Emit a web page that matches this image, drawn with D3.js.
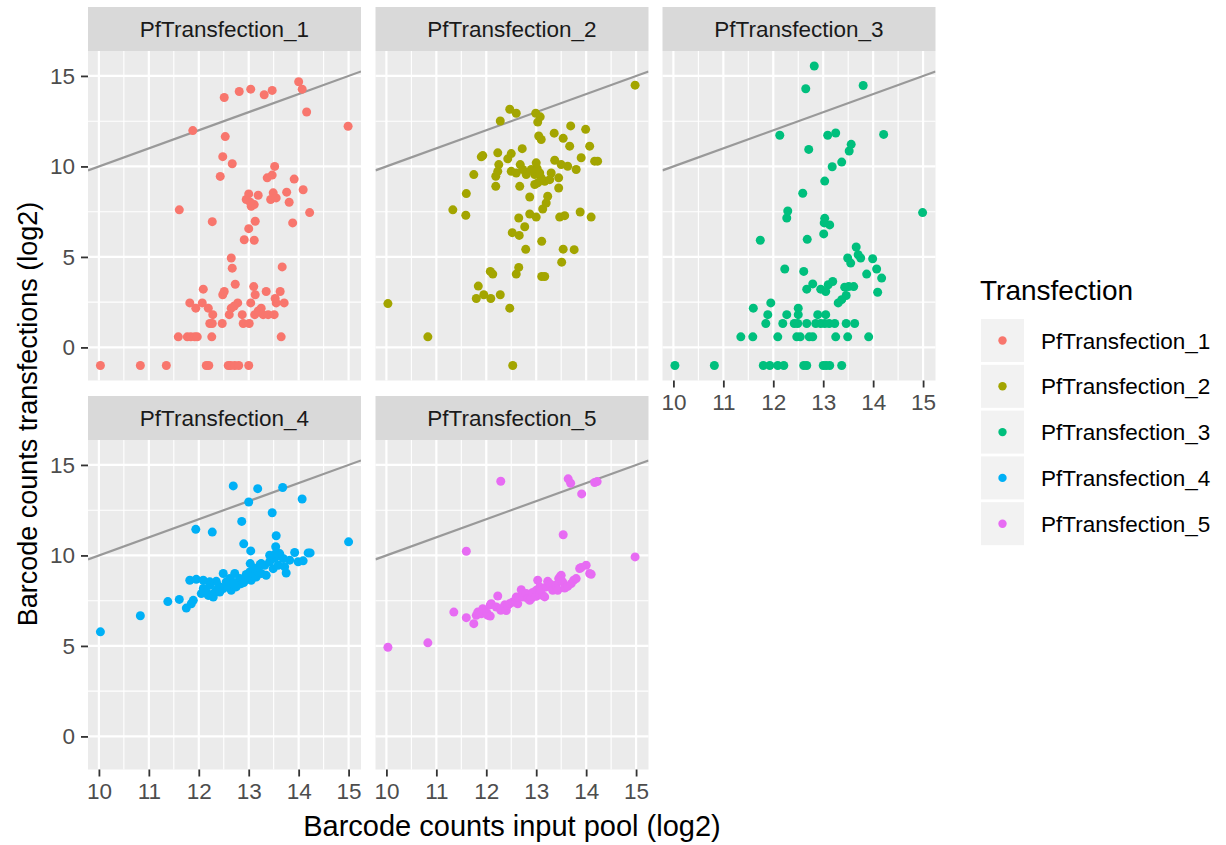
<!DOCTYPE html>
<html>
<head>
<meta charset="utf-8">
<script src="https://cdn.jsdelivr.net/npm/d3@7"></script>
<style>
  html, body { margin: 0; padding: 0; background: #ffffff; }
  svg { display: block; font-family: "Liberation Sans", Arial, Helvetica, sans-serif; }
</style>
</head>
<body>
<svg id="chart" width="1226" height="845"></svg>
<script>
// Facet names and their hue colours
const transfections = ["PfTransfection_1", "PfTransfection_2", "PfTransfection_3", "PfTransfection_4", "PfTransfection_5"];
const colours = ["#F8766D", "#A3A500", "#00BF7D", "#00B0F6", "#E76BF3"];

// Axis ticks
const xTicks = [10, 11, 12, 13, 14, 15];
const yTicks = [0, 5, 10, 15];
const xMinor = [10.5, 11.5, 12.5, 13.5, 14.5];
const yMinor = [2.5, 7.5, 12.5];

// Barcode counts: [input pool (log2), transfection (log2)]
const pf1 = [
  [10.03,-1],[10.83,-1],[11.35,-1],[12.15,-1],[12.2,-1],[12.59,-1],[12.64,-1],[12.72,-1],[12.8,-1],[13.0,-1],
  [11.59,0.585],[11.77,0.585],[11.84,0.585],[11.92,0.585],[11.97,0.585],[12.26,0.585],[13.65,0.585],
  [12.22,1.32],[12.27,1.32],[12.47,1.32],[12.89,1.32],[13.01,1.32],
  [12.28,1.81],[12.61,1.81],[12.87,1.81],[13.12,1.81],[13.29,1.81],[13.39,1.81],[13.51,1.81],
  [11.94,2.17],[12.19,2.17],[12.65,2.17],[13.25,2.17],[13.19,2.01],
  [11.82,2.46],[12.07,2.46],[12.78,2.46],[12.71,2.29],[13.04,2.46],[13.55,2.46],[13.71,2.46],[13.53,2.7],
  [12.48,2.91],[13.13,2.91],[12.51,3.09],[13.35,3.09],[13.63,3.09],[12.09,3.22],[13.1,3.36],[12.73,3.49],
  [12.67,4.38],[13.67,4.45],[12.65,4.94],
  [12.91,5.95],[13.11,5.92],[13.0,6.56],[12.27,6.95],[13.13,6.97],[13.88,6.88],[11.61,7.6],[14.22,7.45],
  [13.05,7.8],[13.11,7.89],[13.03,8.02],[13.81,8.02],[12.95,8.17],[13.44,8.17],[13.55,8.26],[13.19,8.41],
  [13.0,8.48],[13.49,8.54],[13.76,8.58],[14.09,8.71],
  [13.91,9.3],[13.37,9.37],[12.43,9.45],[13.47,9.52],[13.52,10.0],[12.67,10.15],[12.48,10.54],
  [12.53,11.65],[11.88,11.98],[14.99,12.22],[14.16,13.01],
  [12.51,13.81],[13.31,13.96],[12.81,14.14],[13.47,14.2],[13.04,14.27],[14.07,14.27],[14.0,14.68]
];
const pf2 = [
  [10.03,2.42],[10.83,0.585],[12.53,-1],
  [11.8,2.7],[12.09,2.7],[12.28,2.91],[11.95,2.91],[12.47,2.17],[11.84,3.39],
  [13.11,3.92],[13.17,3.92],[12.13,4.05],[12.6,4.05],[12.08,4.2],[12.65,4.42],[13.51,4.71],
  [12.79,5.42],[13.54,5.43],[13.76,5.4],[13.11,5.86],
  [12.66,6.19],[12.52,6.34],[12.77,6.67],
  [12.65,7.15],[12.87,7.37],[13.0,7.2],[13.47,7.2],[13.57,7.28],[13.88,7.48],[14.1,7.2],[11.33,7.6],[11.59,7.3],
  [13.13,7.65],[13.2,7.98],[12.87,8.31],[13.23,8.35],[11.6,8.5],
  [12.19,8.9],[12.67,8.9],[12.97,9.0],[13.03,9.09],[13.45,8.81],[13.17,9.18],[13.27,9.27],[13.1,9.37],[13.45,9.37],
  [12.19,9.46],[11.75,9.55],[12.8,9.55],[12.97,9.55],[12.6,9.64],[13.07,9.64],[13.3,9.64],
  [12.23,9.73],[12.5,9.73],[12.73,9.83],[12.9,9.83],[13.02,9.87],[13.8,9.83],[13.63,10.01],
  [12.25,10.1],[12.68,10.1],[13.5,10.1],[13.0,10.2],[14.17,10.29],[14.23,10.29],[13.37,10.34],
  [12.43,10.42],[13.9,10.48],[11.9,10.53],[11.93,10.6],[12.5,10.71],[12.23,10.75],[12.72,10.98],
  [13.67,11.12],[14.07,11.12],[13.1,11.49],[13.54,11.55],[13.05,11.68],[13.36,11.84],
  [13.99,12.05],[13.69,12.24],[13.03,12.45],[12.28,12.51],[13.08,12.74],[12.6,12.94],[12.99,12.94],[12.47,13.16],
  [14.98,14.49]
];
const pf3 = [
  [10.03,-1],[10.82,-1],[11.8,-1],[11.93,-1],[12.09,-1],[12.21,-1],[12.61,-1],[12.67,-1],[13.0,-1],[13.06,-1],[13.13,-1],[13.37,-1],
  [11.35,0.585],[11.59,0.585],[12.09,0.585],[12.47,0.585],[12.54,0.585],[12.72,0.585],[12.79,0.585],[13.25,0.585],[13.49,0.585],[13.91,0.585],
  [11.85,1.32],[12.19,1.32],[12.42,1.32],[12.49,1.32],[12.67,1.32],[12.85,1.32],[12.95,1.32],[13.03,1.32],[13.12,1.32],[13.23,1.32],[13.46,1.32],[13.63,1.32],
  [11.89,1.81],[12.27,1.81],[12.5,1.81],[12.89,1.81],[13.05,1.81],
  [11.6,2.17],[12.5,2.17],[11.95,2.46],[13.3,2.46],[13.37,2.64],[13.46,2.87],
  [12.67,3.22],[12.95,3.22],[13.05,3.09],[14.09,3.05],[13.43,3.33],[13.51,3.36],[13.61,3.36],[13.1,3.46],[12.79,3.51],[13.19,3.64],
  [14.17,3.83],[13.87,4.05],[12.61,4.2],[12.23,4.33],[14.07,4.33],
  [13.55,4.66],[13.49,4.94],[13.75,4.94],[13.99,4.9],[13.7,5.12],[13.66,5.55],
  [11.74,5.92],[12.68,5.97],[13.01,6.27],[13.13,6.77],[13.02,6.88],[12.27,7.15],[13.03,7.13],[14.99,7.45],[12.29,7.54],
  [12.59,8.52],[13.03,9.19],[13.18,9.98],[13.37,10.24],[13.52,10.85],[12.71,10.94],[13.56,11.22],
  [12.13,11.72],[13.09,11.72],[14.21,11.77],[13.25,11.85],
  [12.65,14.29],[13.8,14.47],[12.82,15.55]
];
const pf4 = [
  [10.03,5.78],[10.83,6.67],[11.38,7.45],[11.61,7.57],[11.75,7.09],[11.85,7.33],[11.89,7.52],
  [11.82,8.63],[11.95,8.68],[12.09,8.63],[12.22,8.54],[12.35,8.57],[12.55,8.54],[12.62,8.72],[12.82,8.72],[12.92,8.63],
  [12.09,8.17],[12.15,7.98],[12.22,8.35],[12.05,7.89],[12.19,7.79],[12.29,7.7],[12.42,7.98],[12.49,8.17],[12.35,8.07],
  [12.65,8.07],[12.75,8.26],[12.85,8.44],[13.05,8.63],[13.15,8.81],[13.25,9.0],
  [12.55,8.3],[12.6,8.45],[12.7,8.5],[12.9,8.5],[13.0,8.8],[12.45,8.2],[12.3,7.9],[12.4,8.3],[12.95,8.95],[12.25,7.8],
  [12.49,9.0],[12.72,9.0],[13.02,9.09],[13.12,8.9],[13.35,8.9],[13.49,9.27],[13.59,9.46],[13.03,9.55],[13.25,9.55],[13.75,9.03],
  [13.23,9.5],[13.72,9.37],[13.32,9.46],[13.2,9.1],[13.1,9.3],
  [13.42,9.65],[13.49,9.83],[13.55,9.92],[13.42,10.01],[13.69,9.83],[13.82,9.74],[13.99,9.65],[14.09,9.7],
  [13.54,10.1],[13.62,10.1],[13.92,10.16],[14.19,10.14],[14.23,10.14],[13.54,10.48],[13.55,11.09],[12.9,10.64],[13.04,10.25],
  [15.0,10.75],[11.94,11.44],[12.27,11.29],[12.86,11.88],[13.47,12.36],[13.0,12.95],[14.07,13.12],
  [13.18,13.69],[13.68,13.75],[12.69,13.84]
];
const pf5 = [
  [10.03,4.93],[10.83,5.17],[11.35,6.87],[11.6,6.56],[11.75,6.23],
  [11.8,6.69],[11.83,6.87],[11.9,6.78],[11.93,7.06],[11.97,6.96],[12.01,6.83],[12.03,6.69],[12.08,6.65],[12.08,7.27],[12.1,7.33],
  [12.2,7.15],[12.23,7.76],[12.29,6.97],[12.3,7.06],[12.37,7.27],[12.4,6.96],[12.43,7.24],[12.47,7.34],[12.53,7.43],[12.58,7.43],
  [12.63,7.33],[12.6,7.7],[12.65,7.71],[12.73,7.7],[12.7,8.11],[12.8,7.89],[12.83,7.61],[12.87,7.52],[12.9,7.61],[12.93,7.95],
  [13.0,7.74],[13.0,8.07],[13.07,7.84],[13.07,8.26],[13.13,7.79],[13.1,8.07],[13.17,7.71],[13.03,8.63],[13.2,8.26],[13.23,8.57],
  [13.27,8.44],[13.3,8.35],[13.33,8.07],[13.39,8.35],[13.41,8.17],[13.43,8.07],[13.45,8.72],[13.48,8.83],[13.5,8.9],[13.53,8.54],
  [13.57,8.2],[13.63,8.29],[13.7,8.44],[13.75,8.63],[13.8,8.72],[13.87,9.28],[13.9,9.33],[14.0,9.46],[14.07,9.0],[14.1,8.96],
  [11.6,10.23],[14.98,9.92],[13.54,11.14],[13.91,13.4],[13.69,13.99],[14.17,14.03],[14.22,14.08],[12.29,14.1],[13.64,14.23]
];
const seriesData = [pf1, pf2, pf3, pf4, pf5];

// Facet grid layout (3 columns, 2 rows)
const colLeft = [88, 375.5, 662.5];
const panelW = 273;
const stripH = 44;
const panelH = 329.5;
const rowStripTop = [7, 396];

const allPts = seriesData.flat();
const xExt = d3.extent(allPts, d => d[0]);
const yExt = d3.extent(allPts, d => d[1]);
const xPad = (xExt[1] - xExt[0]) * 0.05;
const yPad = (yExt[1] - yExt[0]) * 0.05;

const svg = d3.select("#chart");

const tickFont = 22.5;

transfections.forEach((name, i) => {
  const col = i % 3, row = Math.floor(i / 3);
  const left = colLeft[col];
  const stripTop = rowStripTop[row];
  const top = stripTop + stripH;

  const x = d3.scaleLinear().domain([xExt[0] - xPad, xExt[1] + xPad]).range([left, left + panelW]);
  const y = d3.scaleLinear().domain([yExt[0] - yPad, yExt[1] + yPad]).range([top + panelH, top]);

  const g = svg.append("g");

  // strip
  g.append("rect").attr("x", left).attr("y", stripTop).attr("width", panelW).attr("height", stripH).attr("fill", "#D9D9D9");
  g.append("text").attr("x", left + panelW / 2).attr("y", stripTop + stripH / 2 + 8)
    .attr("text-anchor", "middle").attr("font-size", tickFont).attr("fill", "#1A1A1A").text(name);

  // panel background
  g.append("rect").attr("x", left).attr("y", top).attr("width", panelW).attr("height", panelH).attr("fill", "#EBEBEB");

  // grid lines
  g.selectAll(".vminor").data(xMinor).join("line")
    .attr("x1", d => x(d)).attr("x2", d => x(d)).attr("y1", top).attr("y2", top + panelH)
    .attr("stroke", "#ffffff").attr("stroke-width", 1.1);
  g.selectAll(".hminor").data(yMinor).join("line")
    .attr("y1", d => y(d)).attr("y2", d => y(d)).attr("x1", left).attr("x2", left + panelW)
    .attr("stroke", "#ffffff").attr("stroke-width", 1.1);
  g.selectAll(".vmajor").data(xTicks).join("line")
    .attr("x1", d => x(d)).attr("x2", d => x(d)).attr("y1", top).attr("y2", top + panelH)
    .attr("stroke", "#ffffff").attr("stroke-width", 2.2);
  g.selectAll(".hmajor").data(yTicks).join("line")
    .attr("y1", d => y(d)).attr("y2", d => y(d)).attr("x1", left).attr("x2", left + panelW)
    .attr("stroke", "#ffffff").attr("stroke-width", 2.2);

  // identity line y = x, clipped to the panel
  const clipId = "clip" + i;
  g.append("clipPath").attr("id", clipId).append("rect")
    .attr("x", left).attr("y", top).attr("width", panelW).attr("height", panelH);
  const [d0, d1] = x.domain();
  g.append("line").attr("clip-path", `url(#${clipId})`)
    .attr("x1", x(d0)).attr("y1", y(d0)).attr("x2", x(d1)).attr("y2", y(d1))
    .attr("stroke", "#999999").attr("stroke-width", 2.2);

  // points
  g.append("g").attr("clip-path", `url(#${clipId})`)
    .selectAll("circle").data(seriesData[i]).join("circle")
    .attr("cx", d => x(d[0])).attr("cy", d => y(d[1])).attr("r", 4.5)
    .attr("fill", colours[i]);

  // y axis on the left column
  if (col === 0) {
    const ax = g.append("g").attr("transform", `translate(${left},0)`)
      .call(d3.axisLeft(y).tickValues(yTicks).tickSize(7).tickPadding(6).tickFormat(d3.format("d")));
    ax.select(".domain").remove();
    ax.selectAll(".tick line").attr("stroke", "#333333").attr("stroke-width", 1.8);
    ax.selectAll(".tick text").attr("fill", "#4D4D4D").attr("font-size", tickFont).attr("font-family", null);
  }
  // x axis below the bottom panel of each column
  if (row === 1 || col === 2) {
    const ax = g.append("g").attr("transform", `translate(0,${top + panelH})`)
      .call(d3.axisBottom(x).tickValues(xTicks).tickSize(7).tickPadding(7).tickFormat(d3.format("d")));
    ax.select(".domain").remove();
    ax.selectAll(".tick line").attr("stroke", "#333333").attr("stroke-width", 1.8);
    ax.selectAll(".tick text").attr("fill", "#4D4D4D").attr("font-size", tickFont).attr("font-family", null);
  }
});

// axis titles
svg.append("text").attr("x", 512).attr("y", 836).attr("text-anchor", "middle")
  .attr("font-size", 29).attr("fill", "#000000").text("Barcode counts input pool (log2)");
svg.append("text").attr("transform", "translate(37,414) rotate(-90)").attr("text-anchor", "middle")
  .attr("font-size", 27).attr("fill", "#000000").text("Barcode counts transfections (log2)");

// legend
const legend = svg.append("g");
legend.append("text").attr("x", 980).attr("y", 300).attr("font-size", 28).attr("fill", "#000000").text("Transfection");
const keys = legend.selectAll(".key").data(transfections).join("g")
  .attr("transform", (d, i) => `translate(981,${319 + i * 45.8})`);
keys.append("rect").attr("width", 43).attr("height", 43).attr("fill", "#F2F2F2");
keys.append("circle").attr("cx", 21.5).attr("cy", 21.5).attr("r", 4.2).attr("fill", (d, i) => colours[i]);
keys.append("text").attr("x", 60).attr("y", 21.5 + 8).attr("font-size", tickFont).attr("fill", "#000000").text(d => d);
</script>
</body>
</html>
